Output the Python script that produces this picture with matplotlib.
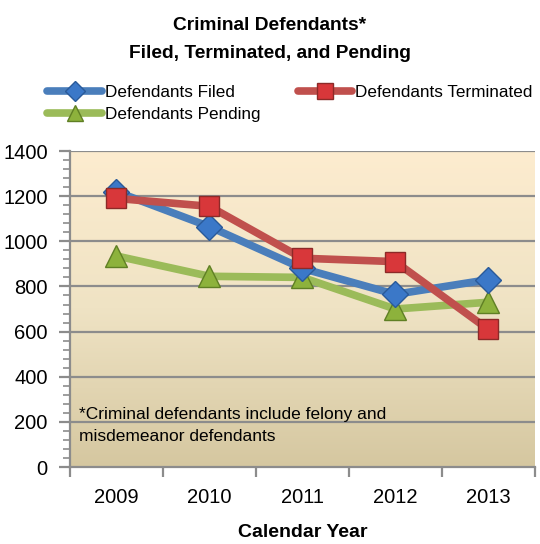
import numpy as np
import matplotlib
matplotlib.use("Agg")
import matplotlib.pyplot as plt
from matplotlib.ticker import MultipleLocator
from matplotlib.colors import LinearSegmentedColormap

years = ["2009", "2010", "2011", "2012", "2013"]
filed = [1220, 1065, 880, 765, 830]
terminated = [1190, 1155, 925, 910, 610]
pending = [935, 845, 840, 700, 730]

FONT = ["Liberation Sans Narrow", "Liberation Sans", "DejaVu Sans"]
plt.rcParams["font.family"] = FONT

fig = plt.figure(figsize=(5.40, 5.44), dpi=100)
ax = fig.add_axes([0.1296, 0.1415, 0.8604, 0.5809])

# warm vertical gradient behind the plot
grad = LinearSegmentedColormap.from_list("bg", ["#d5c7a0", "#efe3c4", "#fdeccf"])
ax.imshow(np.linspace(0, 1, 256).reshape(-1, 1), cmap=grad, origin="lower",
          extent=[-0.5, 4.5, 0, 1400], aspect="auto", zorder=0)

x = np.arange(len(years))
gridc = "#8c8c8c"
for v in range(200, 1401, 200):
    ax.axhline(v, color=gridc, lw=1.6, zorder=1)

ax.plot(x, filed, color="#4a7ebb", lw=5.5, marker="D", ms=13,
        mfc="#3b78c8", mec="#2a5a99", mew=1.0, zorder=4, label="Defendants Filed",
        solid_capstyle="round")
ax.plot(x, terminated, color="#c0504d", lw=5.5, marker="s", ms=15,
        mfc="#d8373a", mec="#8c2a28", mew=1.0, zorder=5, label="Defendants Terminated",
        solid_capstyle="round")
ax.plot(x, pending, color="#9bbb59", lw=5.5, marker="^", ms=16,
        mfc="#8db23c", mec="#5f7f24", mew=1.0, zorder=3, label="Defendants Pending",
        solid_capstyle="round")

ax.set_xlim(-0.5, 4.5)
ax.set_ylim(0, 1400)
ax.set_xticks(np.arange(-0.5, 4.6, 1.0))
ax.set_xticklabels([])
ax.set_xticks(x, minor=True)
ax.set_xticklabels(years, minor=True, fontsize=14.5)
ax.tick_params(axis="x", which="major", length=7, width=1.6, color=gridc, direction="out")
ax.tick_params(axis="x", which="minor", length=0, pad=15)

ax.yaxis.set_major_locator(MultipleLocator(200))
ax.yaxis.set_minor_locator(MultipleLocator(40))
ax.tick_params(axis="y", which="major", length=8, width=1.6, color=gridc, labelsize=14.5, pad=8)
ax.tick_params(axis="y", which="minor", length=5, width=1.2, color=gridc)

for s in ["top", "right"]:
    ax.spines[s].set_visible(False)
for s in ["left", "bottom"]:
    ax.spines[s].set_color(gridc)
    ax.spines[s].set_linewidth(1.6)

ax.text(0.02, 0.19, "*Criminal defendants include felony and\nmisdemeanor defendants",
        transform=ax.transAxes, fontsize=12.5, va="top", ha="left",
        linespacing=1.6, zorder=6)

ax.set_xlabel("Calendar Year", fontsize=14, fontweight="bold", labelpad=12)

fig.text(0.5, 0.968, "Criminal Defendants*\nFiled, Terminated, and Pending",
         ha="center", va="top", fontsize=13.8, fontweight="bold", linespacing=1.85)

h, l = ax.get_legend_handles_labels()
order = [0, 2, 1]
fig.legend([h[i] for i in order], [l[i] for i in order], ncol=2,
           loc="upper left", bbox_to_anchor=(0.072, 0.86), frameon=False,
           fontsize=12.3, handlelength=3.2, handletextpad=0.15,
           columnspacing=2.2, labelspacing=0.45, borderpad=0.0,
           markerscale=0.75)

fig.savefig("out.png", dpi=100)
